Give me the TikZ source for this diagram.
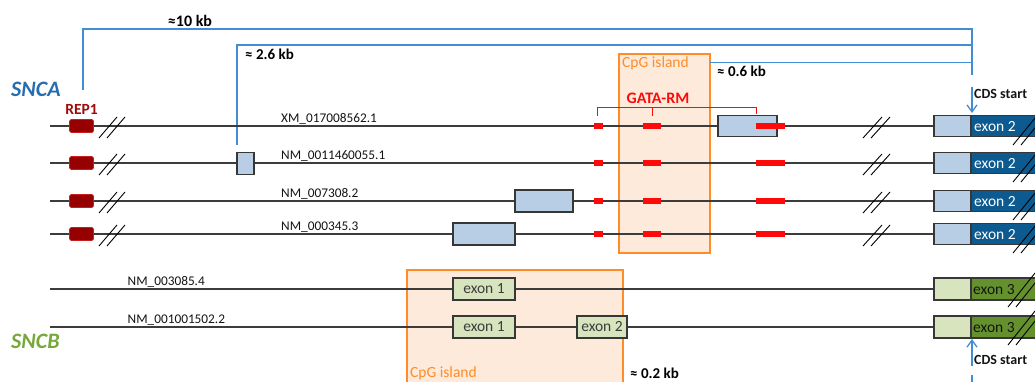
\documentclass[tikz,border=0pt]{standalone}
\usepackage{fontspec}
\setmainfont{Carlito}
\usetikzlibrary{arrows.meta}
\definecolor{brblue}{RGB}{66,142,212}
\definecolor{sncablue}{RGB}{38,110,176}
\definecolor{sncbgreen}{RGB}{119,168,58}
\definecolor{cpgorange}{RGB}{255,140,40}
\definecolor{cpgfill}{RGB}{253,234,218}
\definecolor{lightblue}{RGB}{183,206,228}
\definecolor{darkblue}{RGB}{12,90,143}
\definecolor{lightgreen}{RGB}{215,228,189}
\definecolor{darkgreen}{RGB}{100,145,45}
\definecolor{boxgray}{RGB}{55,55,55}
\definecolor{linegray}{RGB}{60,60,60}
\definecolor{txtgray}{RGB}{20,20,20}
\definecolor{markred}{RGB}{255,10,10}
\definecolor{repred}{RGB}{150,0,0}
\definecolor{repborder}{RGB}{200,30,30}
\definecolor{reptext}{RGB}{160,10,10}
\newcommand\fsz[1]{\fontsize{#1}{#1}\selectfont}
\begin{document}
\begin{tikzpicture}[x=1pt,y=-1pt,
  rowline/.style={draw=linegray,line width=1.4pt},
  bluebr/.style={draw=brblue,line width=1.3pt},
  boxline/.style={draw=boxgray,line width=1.1pt},
  slashln/.style={draw=black,line width=0.9pt},
  redmark/.style={fill=markred},
  tlabel/.style={anchor=base west,inner sep=0pt,font=\fsz{13.3},text=txtgray},
  kb/.style={anchor=base west,inner sep=0pt,font=\bfseries\fsz{15},text=black},
  exlab/.style={anchor=base west,inner sep=0pt,font=\fsz{15.5}},
  cpgbox/.style={fill=cpgfill,draw=cpgorange,line width=1.2pt},
  arrowblue/.style={draw=brblue,line width=1.3pt,-{Straight Barb[length=7pt,width=10pt,line width=1.3pt]}},
 ]
\clip (0,0) rectangle (1035,382);

% CpG islands
\path[cpgbox] (619,54) rectangle (710,253);
\path[cpgbox] (407,270) rectangle (623,395);
\node[anchor=base west,inner sep=0pt,font=\fsz{15.5},text=cpgorange] (cpgA) at (622,68) {CpG island};
\node[anchor=base west,inner sep=0pt,font=\fsz{15.5},text=cpgorange] (cpgB) at (410,377.5) {CpG island};

% brackets
\coordinate (b10a) at (83,90);
\coordinate (b10b) at (83,29);
\coordinate (b10c) at (972,29);
\coordinate (b10d) at (972,75);
\draw[bluebr] (b10a) -- (b10b) -- (b10c) -- (b10d);
\coordinate (b26a) at (237,145);
\coordinate (b26b) at (237,45);
\coordinate (b26c) at (972,45);
\draw[bluebr] (b26a) -- (b26b) -- (b26c);
\coordinate (b06a) at (710,62.7);
\coordinate (b06b) at (972,62.7);
\draw[bluebr] (b06a) -- (b06b);
\node[anchor=base,inner sep=0pt,font=\bfseries\fsz{16}] (t10) at (190,26.5) {≈10 kb};
\node[kb] (t26) at (245,60) {≈ 2.6 kb};
\node[kb] (t06) at (717,77) {≈ 0.6 kb};
\node[kb] (t02) at (630,378) {≈ 0.2 kb};

% gene names
\node[anchor=base west,inner sep=0pt,font=\bfseries\itshape\fsz{22},text=sncablue] (snca) at (11,97) {SNCA};
\node[anchor=base west,inner sep=0pt,font=\bfseries\itshape\fsz{22},text=sncbgreen] (sncb) at (11,348.5) {SNCB};
\node[anchor=base,inner sep=0pt,font=\bfseries\fsz{15.5},text=reptext] (rep) at (81.5,115) {REP1};

% SNCA rows
\foreach \r/\n/\lab in {126/1/XM\_017008562.1, 163/2/NM\_0011460055.1, 201/3/NM\_007308.2, 234/4/NM\_000345.3} {
  \coordinate (sa\n) at (50,\r);
  \coordinate (ea\n) at (1040,\r);
  \draw[rowline] (sa\n) -- (ea\n);
  \node[tlabel] (laba\n) at (281,\r-3.5) {\lab};
  \path[fill=repred,draw=repborder,line width=0.6pt,rounded corners=1.5pt] (69.5,\r-6.5) rectangle (93.5,\r+6.5);
  \draw[slashln] (99,\r+12) -- (117,\r-9) (107,\r+12) -- (125,\r-9);
  \draw[slashln] (863,\r+12) -- (882,\r-9) (871,\r+12) -- (890,\r-9);
  \path[fill=lightblue,boxline] (934,\r-10.5) rectangle (971,\r+10.5);
  \path[fill=darkblue,boxline] (971,\r-10.5) rectangle (1045,\r+10.5);
  \node[exlab,text=white] (exa\n) at (974,\r+5.7) {exon 2};
  \draw[slashln] (1013,\r+19) -- (1040,\r-14) (1021,\r+19) -- (1048,\r-14);
}

% light blue exon boxes
\path[fill=lightblue,boxline] (718,115.5) rectangle (777,136.5);
\path[fill=lightblue,boxline] (237,152.3) rectangle (254,174.3);
\path[fill=lightblue,boxline] (515,190) rectangle (573,212);
\path[fill=lightblue,boxline] (453,223) rectangle (515,245);

% GATA motifs
\foreach \r in {126,163,201,234} {
  \path[redmark] (594,\r-3) rectangle (603,\r+3);
  \path[redmark] (643,\r-3.2) rectangle (661,\r+3.2);
  \path[redmark] (756,\r-3.2) rectangle (785,\r+3.2);
}
\coordinate (g1) at (597.5,116);
\coordinate (g1t) at (597.5,107.5);
\coordinate (g3t) at (756,107.5);
\coordinate (g3) at (756,114);
\coordinate (g2t) at (652,107.5);
\coordinate (g2) at (652,116);
\draw[markred,line width=1pt] (g1) -- (g1t) -- (g3t) -- (g3) (g2t) -- (g2);
\node[anchor=base,inner sep=0pt,font=\bfseries\fsz{16},text=markred] (gata) at (658,103.3) {GATA-RM};

% SNCB rows
\foreach \r/\n/\lab in {289/1/NM\_003085.4, 327/2/NM\_001001502.2} {
  \coordinate (sb\n) at (50,\r);
  \coordinate (eb\n) at (934,\r);
  \draw[rowline] (sb\n) -- (eb\n);
  \node[tlabel] (labb\n) at (127.5,\r-3.5) {\lab};
  \path[fill=lightgreen,boxline] (453,\r-11) rectangle (515,\r+11);
  \node[font=\fsz{15.5},text=linegray,inner sep=0pt] (exb1\n) at (484,\r) {exon 1};
  \path[fill=lightgreen,boxline] (934,\r-11) rectangle (971,\r+11);
  \path[fill=darkgreen,boxline] (971,\r-11) rectangle (1045,\r+11);
  \node[exlab,text=txtgray] (exb3\n) at (973,\r+5.7) {exon 3};
  \draw[slashln] (1008,\r+18) -- (1035,\r-16) (1016,\r+18) -- (1043,\r-16);
}
\path[fill=lightgreen,boxline] (577,316) rectangle (627,338);
\node[font=\fsz{15.5},text=linegray,inner sep=0pt] (exb2) at (602,327) {exon 2};

% CDS start
\coordinate (cdsA0) at (972,87);
\coordinate (cdsA1) at (972,113);
\draw[arrowblue] (cdsA0) -- (cdsA1);
\node[anchor=base west,inner sep=0pt,font=\bfseries\fsz{14},text=txtgray] (cdsA) at (974,98.3) {CDS start};
\coordinate (cdsB0) at (972,366);
\coordinate (cdsB1) at (972,339);
\draw[arrowblue] (cdsB0) -- (cdsB1);
\node[anchor=base west,inner sep=0pt,font=\bfseries\fsz{14},text=txtgray] (cdsB) at (974,364.5) {CDS start};
\coordinate (b02a) at (972,375);
\coordinate (b02b) at (972,395);
\draw[bluebr] (b02a) -- (b02b);
\end{tikzpicture}
\end{document}
